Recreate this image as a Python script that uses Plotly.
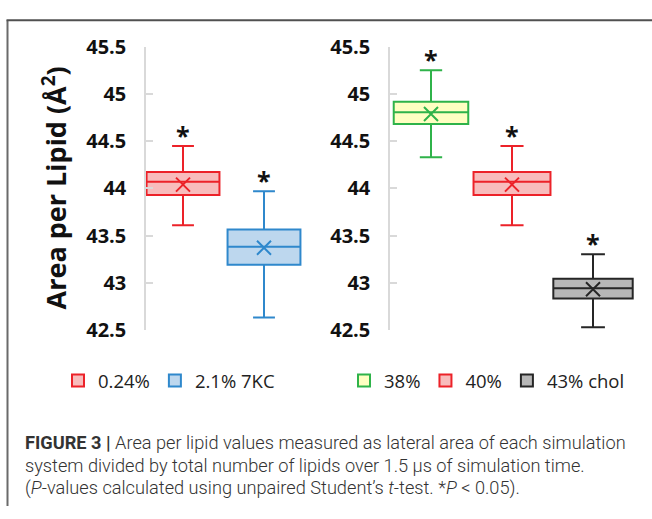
import plotly.graph_objects as go

# ---------------- data ----------------
left_names = ["0.24%", "2.1% 7KC"]
left_q1 = [43.93, 43.19]
left_median = [44.07, 43.38]
left_q3 = [44.175, 43.565]
left_low = [43.61, 42.63]
left_high = [44.45, 43.97]
left_mean = [44.04, 43.37]

right_names = ["38%", "40%", "43% chol"]
right_q1 = [44.685, 43.93, 42.83]
right_median = [44.81, 44.07, 42.94]
right_q3 = [44.92, 44.175, 43.04]
right_low = [44.33, 43.61, 42.525]
right_high = [45.255, 44.45, 43.30]
right_mean = [44.79, 44.04, 42.93]

y_ticks = [42.5, 43, 43.5, 44, 44.5, 45, 45.5]
y_ticktext = ["42.5", "43", "43.5", "44", "44.5", "45", "45.5"]

# ---------------- styles ----------------
W, H = 652, 519
left_line = ["#ec2229", "#2f88cc"]
left_fill = ["#f8bcbc", "#bdd7ee"]
left_width = [0.90, 0.90]
right_line = ["#2fb34a", "#ec2229", "#262626"]
right_fill = ["#ffffc2", "#f8bcbc", "#b7b7b7"]
right_width = [0.92, 0.95, 0.98]

def px_x(p):
    return p / W

def px_y(p):
    return (H - p) / H

fig = go.Figure()

def add_group(names, q1, med, q3, low, high, mean, lines, fills, widths, xa, ya, leg):
    for i, n in enumerate(names):
        fig.add_trace(go.Box(
            x=[i], q1=[q1[i]], median=[med[i]], q3=[q3[i]],
            lowerfence=[low[i]], upperfence=[high[i]],
            name=n, width=widths[i], whiskerwidth=0.3,
            line=dict(color=lines[i], width=2), fillcolor=fills[i],
            boxpoints=False, xaxis=xa, yaxis=ya, legend=leg,
            hoverinfo="skip",
        ))
        fig.add_trace(go.Scatter(
            x=[i], y=[mean[i]], mode="markers", showlegend=False,
            marker=dict(symbol="x-thin-open", size=14, color=lines[i],
                        line=dict(color=lines[i], width=2)),
            xaxis=xa, yaxis=ya, hoverinfo="skip",
        ))
        fig.add_annotation(
            x=i, y=high[i], xref=xa, yref=ya, text="<b>*</b>",
            showarrow=False, xanchor="center", yanchor="bottom", yshift=-8,
            font=dict(family="Open Sans", size=25, color="#111"),
        )

add_group(left_names, left_q1, left_median, left_q3, left_low, left_high,
          left_mean, left_line, left_fill, left_width, "x", "y", "legend")
add_group(right_names, right_q1, right_median, right_q3, right_low, right_high,
          right_mean, right_line, right_fill, right_width, "x2", "y2", "legend2")

ydom = [px_y(333), px_y(35)]
yax = dict(range=[42.5, 45.5], tickvals=y_ticks, ticktext=y_ticktext,
           showline=True, linecolor="#d9d9d9", linewidth=1.5,
           ticks="inside", ticklen=7, tickcolor="#d9d9d9", tickwidth=1.5,
           showgrid=False, zeroline=False, domain=ydom,
           ticklabelstandoff=14,
           tickfont=dict(family="Open Sans", size=20, color="#111", weight="bold"))

fig.update_layout(
    width=W, height=H,
    margin=dict(l=0, r=0, t=0, b=0),
    paper_bgcolor="white", plot_bgcolor="white",
    xaxis=dict(domain=[px_x(146), px_x(310)], range=[-0.457, 1.568], visible=False),
    xaxis2=dict(domain=[px_x(390), px_x(640)], range=[-0.506, 2.58], visible=False),
    yaxis=dict(**yax, anchor="x"),
    yaxis2=dict(**yax, anchor="x2"),
    legend=dict(orientation="h", x=px_x(58), y=px_y(387), xanchor="left", yanchor="middle",
                font=dict(family="Open Sans", size=18.5, color="#222"),
                bgcolor="rgba(0,0,0,0)", itemclick=False),
    legend2=dict(orientation="h", x=px_x(344), y=px_y(387), xanchor="left", yanchor="middle",
                 font=dict(family="Open Sans", size=18.5, color="#222"),
                 bgcolor="rgba(0,0,0,0)", itemclick=False),
    showlegend=True,
)

# y-axis title
fig.add_annotation(
    x=px_x(54), y=px_y(184), xref="paper", yref="paper",
    xanchor="center", yanchor="middle",
    text="<b>Area per Lipid (Å<sup>2</sup>)</b>", textangle=-90, showarrow=False,
    font=dict(family="Open Sans", size=27, color="#111"),
)

# caption
cap_lines = [
    "<b>FIGURE 3 |</b> Area per lipid values measured as lateral area of each simulation",
    "system divided by total number of lipids over 1.5 μs of simulation time.",
    "(<i>P</i>-values calculated using unpaired Student’s <i>t</i>-test. *<i>P</i> &lt; 0.05).",
]
cap_y = [452, 476, 500]
for t, yy in zip(cap_lines, cap_y):
    fig.add_annotation(
        x=px_x(23), y=px_y(yy), xref="paper", yref="paper", text=t,
        showarrow=False, xanchor="left", yanchor="middle", align="left",
        font=dict(family="Roboto", size=18.2, color="#333", weight=300),
    )

# frame
fig.add_shape(type="line", xref="paper", yref="paper",
              x0=px_x(7.5), y0=0, x1=px_x(7.5), y1=px_y(6.5),
              line=dict(color="#6a6a6a", width=2))
fig.add_shape(type="line", xref="paper", yref="paper",
              x0=px_x(6.5), y0=px_y(6.5), x1=1, y1=px_y(6.5),
              line=dict(color="#505050", width=2))

fig.write_html("out.html", config={"displayModeBar": False},
               post_script="document.body.style.margin='0';")
